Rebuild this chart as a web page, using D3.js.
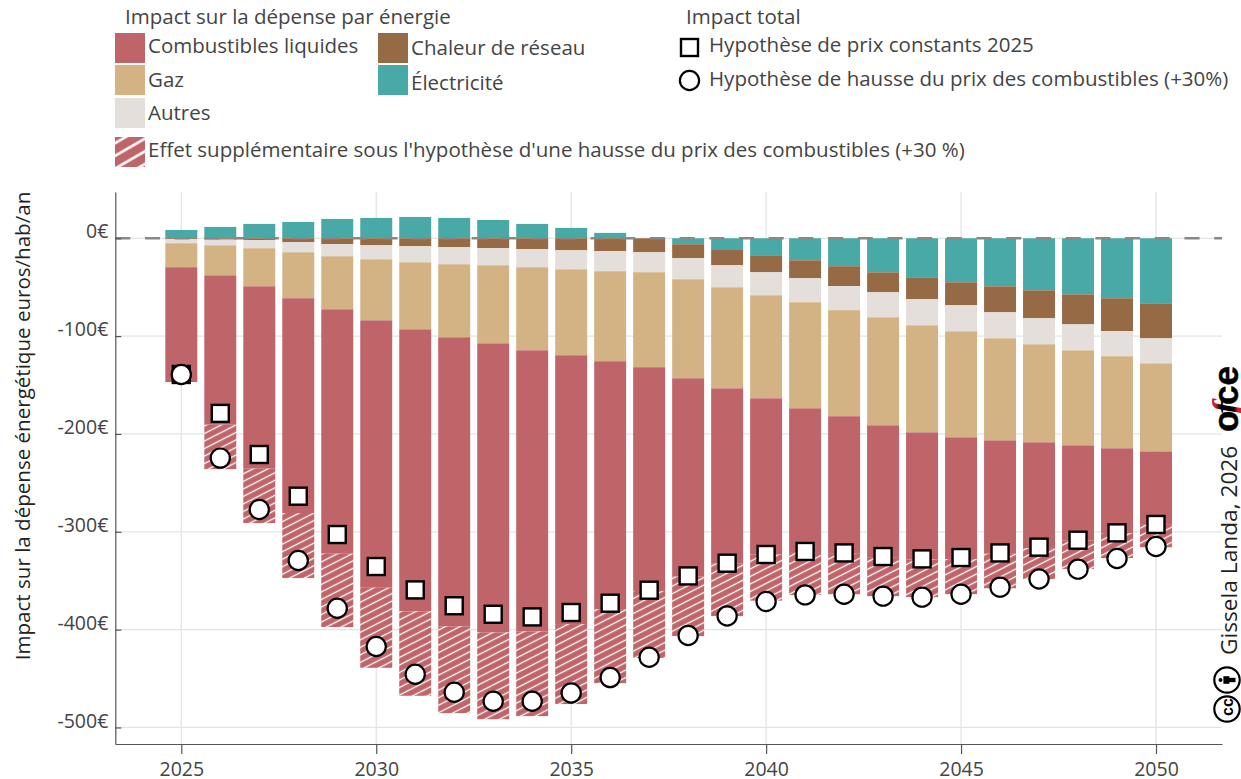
<!DOCTYPE html>
<html lang="fr">
<head>
<meta charset="utf-8">
<title>Impact sur la dépense énergétique</title>
<script src="https://cdn.jsdelivr.net/npm/d3@7"></script>
<style>
  html, body { margin: 0; padding: 0; background: #fff; overflow: hidden; }
  svg { display: block; font-family: "Open Sans", sans-serif; }
</style>
</head>
<body>
<div id="chart"></div>
<script>
// Valeurs (euros/hab/an)
const annees = d3.range(2025, 2051);
const electricite = [8.5, 11.6, 14.7, 16.7, 19.8, 20.8, 21.8, 20.8, 18.7, 14.7, 10.6, 5.5, 0,
  -6.1, -11.2, -17.4, -22.5, -28.6, -34.8, -39.9, -45, -49.1, -53.2, -57.3, -61.3, -66.5];
const chaleur = [-1, -1.4, -2, -4.1, -6.1, -7.2, -8.2, -9.2, -10.2, -11.2, -12.3, -13.3, -14.3,
  -14.3, -16.4, -17.4, -18.4, -20.4, -20.4, -22.5, -23.5, -26.6, -28.6, -30.7, -33.7, -35.8];
const autres = [-4.1, -5.8, -8.2, -10.2, -12.3, -14.3, -16.4, -17.4, -17.4, -18.4, -19.4, -20.4, -20.4,
  -21.5, -22.5, -23.5, -24.5, -24.5, -25.6, -26.6, -26.6, -26.6, -26.6, -26.6, -25.6, -25.6];
const gaz = [-24.5, -30.7, -38.9, -47, -54.2, -62.4, -68.5, -74.6, -79.8, -84.9, -87.9, -92, -97.1,
  -101.2, -103.3, -105.3, -108.4, -108.4, -110.4, -109.4, -108.4, -104.3, -100.2, -97.1, -94.1, -90];
const liquides = [-117.3, -152.7, -186.4, -219.5, -249.8, -273.3, -288.3, -295.5, -295.5, -287.3, -274.7, -253.3, -228.7,
  -202.8, -179.2, -159.8, -146.9, -140.6, -134.7, -129.9, -124.4, -115.9, -108.1, -97.4, -86.6, -75];
const supplement = [0, -45.4, -55.6, -66.5, -75, -81.8, -86.2, -88.7, -88.7, -86.6, -81.8, -75.7, -68.5,
  -60.7, -53.6, -47, -44, -41.3, -39.9, -38.5, -35.8, -35.2, -31.7, -29, -25.6, -22.9];
const totalConstant = [-139.2, -179, -221, -263.6, -302.8, -335.5, -359.4, -375.6, -384.3, -387, -382.5, -373, -359.7,
  -345.1, -332.1, -323.2, -320.1, -321.6, -325.3, -327.7, -326.3, -321.6, -315.7, -308.6, -301.1, -292.5];
const totalHausse = [-139.2, -224.7, -277.2, -329.3, -378.1, -417.3, -445.6, -464, -473.2, -473.2, -464.7, -449, -428.2,
  -406, -386, -371.3, -364.5, -363.8, -365.8, -366.8, -363.8, -356.6, -348.2, -338.2, -327.3, -315];
const yTicks = [0, -100, -200, -300, -400, -500];
const xTicks = [2025, 2030, 2035, 2040, 2045, 2050];

const couleurs = { electricite: "#49a9a6", chaleur: "#956a45", autres: "#e4dfdb", gaz: "#d3b383", liquides: "#bf6469" };
const texte = "#444444";

const width = 1241, height = 779;
const plotL = 115.3, plotR = 1222, plotT = 192, plotB = 744;

const svg = d3.select("#chart").append("svg").attr("width", width).attr("height", height);
const defs = svg.append("defs");

function hatch(id, spacing, stroke, angle) {
  const p = defs.append("pattern").attr("id", id)
    .attr("patternUnits", "userSpaceOnUse")
    .attr("width", 20).attr("height", spacing)
    .attr("patternTransform", `rotate(${angle})`);
  p.append("rect").attr("width", 20).attr("height", spacing).attr("fill", couleurs.liquides);
  p.append("line").attr("x1", 0).attr("x2", 20)
    .attr("y1", spacing / 2).attr("y2", spacing / 2)
    .attr("stroke", "#fff").attr("stroke-width", stroke);
}
hatch("hachures", 6.7, 1.3, -27);
hatch("hachures-legende", 11, 2.6, -30);

// logo : le f est noir au centre, rouge aux extrémités
const grad = defs.append("linearGradient").attr("id", "logo-f").attr("x1", 0).attr("x2", 0).attr("y1", 0).attr("y2", 1);
grad.append("stop").attr("offset", "0.25").attr("stop-color", "#c8202c");
grad.append("stop").attr("offset", "0.38").attr("stop-color", "#000");
grad.append("stop").attr("offset", "0.68").attr("stop-color", "#000");
grad.append("stop").attr("offset", "0.78").attr("stop-color", "#c8202c");

// ===== Scales =====
const pxParAn = (1156 - 181.3) / 25;
const x = d3.scaleLinear()
  .domain([2025 - (181.3 - plotL) / pxParAn, 2050 + (plotR - 1156) / pxParAn])
  .range([plotL, plotR]);
const y = d3.scaleLinear()
  .domain([47.3, -516.9])
  .range([plotT, plotB]);
const barW = pxParAn * 0.82;

// ===== Grid =====
const grid = svg.append("g");
grid.selectAll(".gy").data(yTicks).enter().append("line")
  .attr("x1", plotL).attr("x2", plotR)
  .attr("y1", d => y(d)).attr("y2", d => y(d))
  .attr("stroke", "#e4e4e4").attr("stroke-width", 1.3);
grid.selectAll(".gx").data(xTicks).enter().append("line")
  .attr("x1", d => x(d)).attr("x2", d => x(d))
  .attr("y1", plotT).attr("y2", plotB)
  .attr("stroke", "#e4e4e4").attr("stroke-width", 1.3);

// ===== Stacked bars =====
const table = annees.map((a, i) => ({
  annee: a,
  electricite: electricite[i], chaleur: chaleur[i], autres: autres[i],
  gaz: gaz[i], liquides: liquides[i], supplement: supplement[i]
}));
const series = d3.stack()
  .keys(["electricite", "chaleur", "autres", "gaz", "liquides", "supplement"])
  .offset(d3.stackOffsetDiverging)(table);

svg.append("g").selectAll("g")
  .data(series)
  .enter().append("g")
    .attr("fill", d => d.key === "supplement" ? "url(#hachures)" : couleurs[d.key])
  .selectAll("rect")
  .data(d => d)
  .enter().append("rect")
    .attr("x", d => x(d.data.annee) - barW / 2)
    .attr("width", barW)
    .attr("y", d => y(d[1]))
    .attr("height", d => y(d[0]) - y(d[1]));

// Ligne pointillée du zéro
svg.append("line")
  .attr("x1", plotL).attr("x2", plotR)
  .attr("y1", y(0)).attr("y2", y(0))
  .attr("stroke", "#888").attr("stroke-width", 2.4)
  .attr("stroke-dasharray", "15 14.7");

// ===== Axes =====
const axisY = svg.append("g").attr("transform", `translate(${plotL},0)`)
  .call(d3.axisLeft(y).tickValues(yTicks).tickSizeInner(-6).tickSizeOuter(0).tickPadding(7).tickFormat(d => `${d}€`));
const axisX = svg.append("g").attr("transform", `translate(0,${plotB})`)
  .call(d3.axisBottom(x).tickValues(xTicks).tickSizeInner(10).tickSizeOuter(0).tickPadding(8).tickFormat(d3.format("d")));
for (const a of [axisY, axisX]) {
  a.select(".domain").attr("stroke", "#555").attr("stroke-width", 1.2);
  a.selectAll("line").attr("stroke", "#555").attr("stroke-width", 1.2);
  a.selectAll("text").attr("fill", texte).style("font-size", "19.5px")
    .style("font-family", '"Open Sans", sans-serif');
}
axisY.selectAll("text").attr("dy", "-0.02em");

svg.append("text")
  .attr("transform", "translate(30,426) rotate(-90)")
  .attr("text-anchor", "middle")
  .attr("fill", "#222")
  .style("font-size", "20.55px")
  .text("Impact sur la dépense énergétique euros/hab/an");

// ===== Marqueurs =====
const cote = 17;
svg.append("g").selectAll("rect")
  .data(annees)
  .enter().append("rect")
    .attr("x", (d) => x(d) - cote / 2)
    .attr("y", (d, i) => y(totalConstant[i]) - cote / 2)
    .attr("width", cote).attr("height", cote)
    .attr("fill", "#fff").attr("stroke", "#000").attr("stroke-width", 2.4);
svg.append("g").selectAll("circle")
  .data(annees)
  .enter().append("circle")
    .attr("cx", d => x(d))
    .attr("cy", (d, i) => y(totalHausse[i]))
    .attr("r", 9.6)
    .attr("fill", "#fff").attr("stroke", "#000").attr("stroke-width", 2.2);

// ===== Légende =====
const legende = svg.append("g").style("font-size", "20.5px").attr("fill", texte);
legende.append("text").attr("x", 125).attr("y", 24).text("Impact sur la dépense par énergie");
legende.append("text").attr("x", 686).attr("y", 24).text("Impact total");

const cases = [
  { label: "Combustibles liquides", fill: couleurs.liquides, x: 115, y: 33, tx: 148, ty: 52.7 },
  { label: "Gaz", fill: couleurs.gaz, x: 115, y: 65, tx: 148, ty: 87 },
  { label: "Autres", fill: couleurs.autres, x: 115, y: 98, tx: 148, ty: 120 },
  { label: "Chaleur de réseau", fill: couleurs.chaleur, x: 378, y: 33, tx: 411, ty: 55 },
  { label: "Électricité", fill: couleurs.electricite, x: 378, y: 65, tx: 411, ty: 89.5 },
  { label: "Effet supplémentaire sous l'hypothèse d'une hausse du prix des combustibles (+30 %)", fill: "url(#hachures-legende)", x: 115, y: 137, tx: 148, ty: 156.5 }
];
legende.selectAll("rect").data(cases).enter().append("rect")
  .attr("x", d => d.x).attr("y", d => d.y)
  .attr("width", 30).attr("height", 30).attr("fill", d => d.fill);
legende.selectAll(".lab").data(cases).enter().append("text")
  .attr("x", d => d.tx).attr("y", d => d.ty).text(d => d.label);

legende.append("rect").attr("x", 681).attr("y", 39).attr("width", 17).attr("height", 17)
  .attr("fill", "#fff").attr("stroke", "#000").attr("stroke-width", 2.4);
legende.append("circle").attr("cx", 689.5).attr("cy", 80.5).attr("r", 9.6)
  .attr("fill", "#fff").attr("stroke", "#000").attr("stroke-width", 2.2);
legende.append("text").attr("x", 709).attr("y", 52).text("Hypothèse de prix constants 2025");
legende.append("text").attr("x", 709).attr("y", 85.7).text("Hypothèse de hausse du prix des combustibles (+30%)");

// ===== Crédits (verticaux, à droite) =====
const credit = svg.append("g").attr("transform", "translate(1237,0)");
credit.append("text")
  .attr("transform", "translate(0,655) rotate(-90)")
  .attr("fill", "#222")
  .style("font-size", "22.7px")
  .text("Gissela Landa, 2026");

const logo = credit.append("g").attr("transform", "translate(1,432) rotate(-90)")
  .style("font-family", '"Liberation Sans", sans-serif').style("font-weight", 700).style("font-size", "35px");
logo.append("text").attr("x", 0).attr("stroke", "#000").attr("stroke-width", 0.5).text("o");
logo.append("text").attr("x", 18).attr("dy", 1)
  .style("font-family", '"Liberation Serif", serif').style("font-style", "italic")
  .attr("fill", "url(#logo-f)").style("font-size", "38px").text("f");
logo.append("text").attr("x", 27).attr("stroke", "#000").attr("stroke-width", 0.5).text("ce");

const cc = svg.append("g").attr("fill", "none").attr("stroke", "#000").attr("stroke-width", 2.2);
cc.append("circle").attr("cx", 1227).attr("cy", 709).attr("r", 12.7);
cc.append("circle").attr("cx", 1227).attr("cy", 680).attr("r", 12.7);
svg.append("text").attr("transform", "translate(1232.5,716) rotate(-90)")
  .style("font-family", '"Liberation Sans", sans-serif').style("font-weight", 700).style("font-size", "16px")
  .text("cc");
const by = svg.append("g").attr("transform", "translate(1227,680) rotate(-90)").attr("fill", "#000");
by.append("circle").attr("cx", 0).attr("cy", -6.5).attr("r", 2);
by.append("rect").attr("x", -3.8).attr("y", -3.6).attr("width", 7.6).attr("height", 6);
by.append("rect").attr("x", -2.2).attr("y", 2).attr("width", 4.4).attr("height", 6.5);
</script>
</body>
</html>
